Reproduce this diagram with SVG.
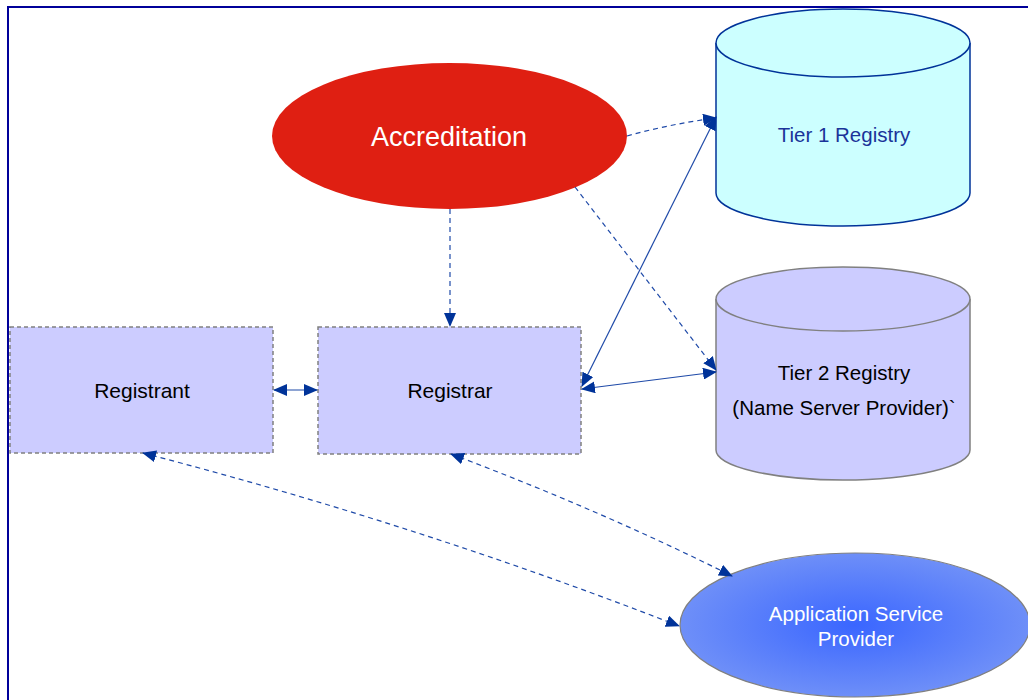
<svg xmlns="http://www.w3.org/2000/svg" width="1028" height="700" viewBox="0 0 1028 700">
<defs>
<marker id="ah" viewBox="0 0 14 12" refX="13" refY="6" markerWidth="14" markerHeight="12" markerUnits="userSpaceOnUse" orient="auto-start-reverse">
<path d="M0,0 L14,6 L0,12 z" fill="#003399"/>
</marker>
<radialGradient id="asp" cx="50%" cy="50%" r="50%">
<stop offset="0" stop-color="#3a66ff"/>
<stop offset="1" stop-color="#6e8ff8"/>
</radialGradient>
<style>
.box{fill:#ccccff;stroke:#808080;stroke-width:1.5;stroke-dasharray:4 3}
.lbl{font-family:"Liberation Sans",Arial,sans-serif;text-anchor:middle}
.c{fill:none;stroke:#1f4aa8;stroke-width:1.2}
.d{stroke-dasharray:5 4}
</style>
</defs>
<rect x="0" y="0" width="1028" height="700" fill="#fff"/>
<rect x="8" y="7" width="1040" height="720" fill="none" stroke="#000099" stroke-width="2"/>

<g id="accreditation">
<ellipse cx="449.5" cy="136" rx="177.5" ry="73" fill="#df1f12"/>
<text class="lbl" x="449" y="146" font-size="27" fill="#ffffff">Accreditation</text>
</g>

<g id="tier1">
<path d="M716,43 L716,193 A127,33 0 0 0 970,193 L970,43" fill="#ccffff" stroke="#003399" stroke-width="1.5"/>
<ellipse cx="843" cy="43" rx="127" ry="34" fill="#ccffff" stroke="#003399" stroke-width="1.5"/>
<text class="lbl" x="844" y="142" font-size="20.5" fill="#1a3399">Tier 1 Registry</text>
</g>

<g id="tier2">
<path d="M716,299 L716,450 A127,30 0 0 0 970,450 L970,299" fill="#ccccff" stroke="#808080" stroke-width="1.5"/>
<ellipse cx="843" cy="299" rx="127" ry="32" fill="#ccccff" stroke="#808080" stroke-width="1.5"/>
<text class="lbl" x="844" y="380" font-size="20.5" fill="#000">Tier 2 Registry</text>
<text class="lbl" x="844" y="415" font-size="20.5" fill="#000">(Name Server Provider)`</text>
</g>

<g id="registrant">
<rect class="box" x="10" y="327" width="263" height="126"/>
<text class="lbl" x="142" y="398" font-size="21" fill="#000">Registrant</text>
</g>

<g id="registrar">
<rect class="box" x="318" y="327" width="263" height="127"/>
<text class="lbl" x="450" y="398" font-size="21" fill="#000">Registrar</text>
</g>

<g id="asp">
<ellipse cx="855" cy="625" rx="175" ry="72" fill="url(#asp)" stroke="#808080" stroke-width="1.2"/>
<text class="lbl" x="856" y="621" font-size="20.5" fill="#ffffff">Application Service</text>
<text class="lbl" x="856" y="646" font-size="20.5" fill="#ffffff">Provider</text>
</g>

<g id="connectors">
<path class="c d" d="M627,136 Q670,124 716,118" stroke-width="1.5" marker-end="url(#ah)"/>
<path class="c d" d="M575,187 L716,370" marker-end="url(#ah)"/>
<path class="c d" d="M450,209 L450,326" stroke="#003399" stroke-width="2.5" marker-end="url(#ah)"/>
<path class="c" d="M582,386 L716,117" marker-start="url(#ah)" marker-end="url(#ah)"/>
<path class="c" d="M582,389 L716,372" marker-start="url(#ah)" marker-end="url(#ah)"/>
<path class="c" d="M274,390 L317,390" stroke-width="2" marker-start="url(#ah)" marker-end="url(#ah)"/>
<path class="c d" d="M143,453 Q420,525 679,626" marker-start="url(#ah)" marker-end="url(#ah)"/>
<path class="c d" d="M451,454 Q600,510 732,576" marker-start="url(#ah)" marker-end="url(#ah)"/>
</g>
</svg>
